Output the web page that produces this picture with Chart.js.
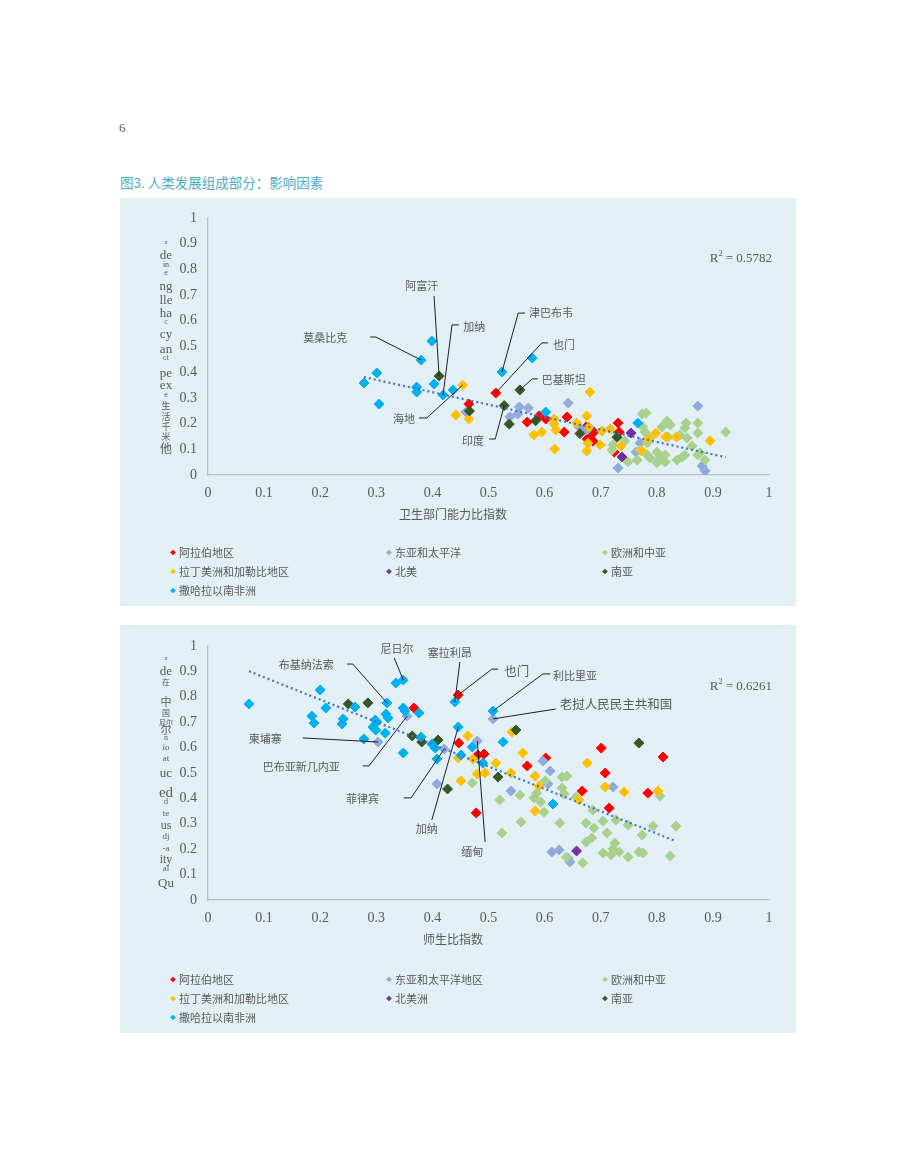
<!DOCTYPE html>
<html>
<head>
<meta charset="utf-8">
<script src="https://cdn.jsdelivr.net/npm/chart.js@4.4.1/dist/chart.umd.min.js"></script>
<style>
  body { margin: 0; background: #fff; width: 920px; height: 1173px; position: relative; font-family: "Noto Sans CJK SC", sans-serif; }
  .pageno { position: absolute; left: 119px; top: 120px; font: 13px "Liberation Serif", serif; color: #595959; }
  .figtitle { position: absolute; left: 120px; top: 172px; font-size: 13.5px; color: #4bacc6; }
  .panel { position: absolute; left: 120px; width: 676px; height: 408px; background: #e2eff5; }
  .panel canvas { position: absolute; left: 0; top: 0; }
  .ypiece { position: absolute; transform: translate(-50%, -50%); color: #595959; white-space: nowrap; line-height: 1; }
  .leg { position: absolute; font-size: 11px; color: #595959; line-height: 1; transform: translateY(-50%); white-space: nowrap; }
  .leg i { display: inline-block; width: 4px; height: 4px; transform: rotate(45deg); margin: 0 4px 2px 0; vertical-align: middle; }
</style>
</head>
<body>
<div class="pageno">6</div>
<div class="figtitle">图3. 人类发展组成部分：影响因素</div>
<div class="panel" id="panel1" style="top:198px"><canvas id="chart1" width="676" height="408"></canvas></div>
<div class="panel" id="panel2" style="top:625px"><canvas id="chart2" width="676" height="408"></canvas></div>

<script>
// ---- 数据----
const tickLabels = ['0', '0.1', '0.2', '0.3', '0.4', '0.5', '0.6', '0.7', '0.8', '0.9', '1'];
const seriesColors = ['#ff0000', '#8faadc', '#a9d18e', '#ffc000', '#7030a0', '#375623', '#00b0f0'];

// 图1：卫生部门能力比指数
const arab1 = [[0.465,0.276],[0.513,0.319],[0.569,0.206],[0.590,0.230],[0.602,0.218],[0.640,0.226],[0.635,0.167],[0.674,0.187],[0.681,0.152],[0.688,0.167],[0.686,0.132],[0.676,0.140],[0.731,0.202],[0.733,0.167],[0.724,0.089]];
const eap1 = [[0.460,0.245],[0.538,0.226],[0.552,0.237],[0.555,0.265],[0.571,0.261],[0.642,0.280],[0.661,0.187],[0.676,0.175],[0.731,0.027],[0.763,0.089],[0.770,0.125],[0.873,0.268],[0.881,0.035],[0.886,0.016]];
const eca1 = [[0.774,0.237],[0.781,0.241],[0.775,0.187],[0.779,0.167],[0.818,0.210],[0.824,0.195],[0.852,0.202],[0.850,0.183],[0.873,0.202],[0.873,0.163],[0.923,0.167],[0.809,0.187],[0.788,0.144],[0.820,0.148],[0.841,0.156],[0.854,0.144],[0.863,0.113],[0.877,0.086],[0.886,0.058],[0.722,0.117],[0.720,0.097],[0.749,0.051],[0.765,0.058],[0.788,0.066],[0.800,0.089],[0.806,0.066],[0.815,0.078],[0.815,0.051],[0.836,0.058],[0.845,0.070],[0.850,0.078],[0.800,0.047],[0.783,0.078],[0.873,0.078],[0.783,0.125],[0.770,0.097],[0.743,0.132]];
const lac1 = [[0.454,0.350],[0.442,0.233],[0.465,0.218],[0.581,0.156],[0.595,0.167],[0.617,0.218],[0.617,0.198],[0.620,0.175],[0.618,0.101],[0.657,0.202],[0.675,0.230],[0.681,0.323],[0.679,0.187],[0.677,0.124],[0.675,0.093],[0.699,0.117],[0.702,0.171],[0.717,0.179],[0.736,0.113],[0.773,0.094],[0.798,0.163],[0.785,0.140],[0.816,0.148],[0.835,0.148],[0.895,0.133]];
const na1 = [[0.754,0.163],[0.738,0.070]];
const sa1 = [[0.412,0.385],[0.466,0.249],[0.556,0.331],[0.528,0.270],[0.537,0.198],[0.584,0.211],[0.663,0.161],[0.729,0.147]];
const ssa1 = [[0.278,0.358],[0.301,0.397],[0.305,0.276],[0.372,0.342],[0.372,0.323],[0.380,0.447],[0.399,0.521],[0.403,0.354],[0.419,0.311],[0.437,0.331],[0.524,0.401],[0.578,0.455],[0.602,0.245],[0.766,0.202]];

// 图2：师生比指数
const arab2 = [[0.367,0.756],[0.446,0.807],[0.447,0.618],[0.481,0.571],[0.492,0.575],[0.478,0.343],[0.569,0.528],[0.602,0.559],[0.667,0.429],[0.701,0.598],[0.708,0.500],[0.715,0.362],[0.784,0.421],[0.811,0.563]];
const eap2 = [[0.303,0.622],[0.355,0.724],[0.408,0.457],[0.421,0.594],[0.480,0.626],[0.508,0.713],[0.540,0.429],[0.597,0.547],[0.606,0.457],[0.610,0.508],[0.722,0.445],[0.613,0.189],[0.626,0.197],[0.642,0.165],[0.645,0.150]];
const eca2 = [[0.471,0.461],[0.520,0.394],[0.524,0.264],[0.556,0.413],[0.558,0.307],[0.581,0.402],[0.586,0.421],[0.593,0.386],[0.599,0.346],[0.601,0.469],[0.627,0.303],[0.631,0.484],[0.640,0.488],[0.631,0.441],[0.635,0.417],[0.656,0.406],[0.674,0.303],[0.688,0.283],[0.704,0.311],[0.727,0.315],[0.686,0.354],[0.684,0.244],[0.674,0.228],[0.711,0.264],[0.725,0.224],[0.749,0.295],[0.774,0.256],[0.793,0.291],[0.834,0.291],[0.806,0.409],[0.639,0.169],[0.668,0.146],[0.704,0.185],[0.718,0.177],[0.733,0.189],[0.749,0.169],[0.768,0.189],[0.775,0.185],[0.824,0.173],[0.722,0.201]];
const lac2 = [[0.446,0.559],[0.451,0.469],[0.463,0.646],[0.472,0.555],[0.480,0.496],[0.494,0.500],[0.513,0.539],[0.540,0.500],[0.542,0.661],[0.561,0.579],[0.583,0.488],[0.590,0.449],[0.583,0.350],[0.661,0.394],[0.676,0.539],[0.708,0.445],[0.742,0.425],[0.802,0.429]];
const na2 = [[0.657,0.193]];
const sa2 = [[0.250,0.772],[0.285,0.776],[0.364,0.646],[0.381,0.622],[0.410,0.630],[0.427,0.437],[0.517,0.484],[0.549,0.669],[0.768,0.618]];
const ssa2 = [[0.073,0.772],[0.200,0.827],[0.210,0.756],[0.185,0.724],[0.189,0.697],[0.241,0.713],[0.239,0.693],[0.262,0.760],[0.298,0.709],[0.301,0.701],[0.294,0.681],[0.299,0.669],[0.316,0.657],[0.319,0.776],[0.317,0.732],[0.321,0.717],[0.335,0.854],[0.348,0.866],[0.348,0.756],[0.351,0.744],[0.376,0.736],[0.278,0.634],[0.348,0.579],[0.380,0.642],[0.399,0.614],[0.405,0.598],[0.408,0.555],[0.440,0.780],[0.446,0.681],[0.451,0.571],[0.471,0.602],[0.490,0.539],[0.508,0.744],[0.526,0.622],[0.615,0.378]];

const legend1 = ['阿拉伯地区', '东亚和太平洋', '欧洲和中亚', '拉丁美洲和加勒比地区', '北美', '南亚', '撒哈拉以南非洲'];
const legend2 = ['阿拉伯地区', '东亚和太平洋地区', '欧洲和中亚', '拉丁美洲和加勒比地区', '北美洲', '南亚', '撒哈拉以南非洲'];

// 标注：文字位置、折线拐点（数据坐标），指向的系列及近似点
const notes1 = [
  { text: '阿富汗', pos: [0.381, 0.735], align: 'center', path: [[0.403, 0.696]], series: 5, at: [0.412, 0.385] },
  { text: '加纳', pos: [0.455, 0.576], align: 'left', path: [[0.447, 0.584], [0.435, 0.584]], series: 6, at: [0.419, 0.311] },
  { text: '莫桑比克', pos: [0.248, 0.533], align: 'right', path: [[0.289, 0.537], [0.299, 0.537]], series: 6, at: [0.380, 0.447] },
  { text: '津巴布韦', pos: [0.572, 0.630], align: 'left', path: [[0.565, 0.630], [0.553, 0.630]], series: 6, at: [0.524, 0.401] },
  { text: '也门', pos: [0.615, 0.506], align: 'left', path: [[0.606, 0.514], [0.595, 0.514]], series: 0, at: [0.513, 0.319] },
  { text: '巴基斯坦', pos: [0.595, 0.370], align: 'left', path: [[0.588, 0.374], [0.578, 0.374]], series: 5, at: [0.556, 0.331] },
  { text: '海地', pos: [0.369, 0.218], align: 'right', path: [[0.376, 0.222], [0.390, 0.222]], series: 3, at: [0.454, 0.350] },
  { text: '印度', pos: [0.492, 0.132], align: 'right', path: [[0.501, 0.140], [0.512, 0.140]], series: 5, at: [0.528, 0.270] }
];
const notes2 = [
  { text: '尼日尔', pos: [0.337, 0.988], align: 'center', path: [[0.332, 0.953]], series: 6, at: [0.348, 0.866] },
  { text: '塞拉利昂', pos: [0.431, 0.972], align: 'center', path: [[0.449, 0.937]], series: 6, at: [0.440, 0.780] },
  { text: '布基纳法索', pos: [0.175, 0.925], align: 'center', path: [[0.248, 0.929], [0.258, 0.929]], series: 6, at: [0.319, 0.776] },
  { text: '也门', pos: [0.528, 0.902], align: 'left', path: [[0.517, 0.909], [0.506, 0.909]], series: 0, at: [0.446, 0.807], size: 12.5 },
  { text: '利比里亚', pos: [0.615, 0.882], align: 'left', path: [[0.610, 0.890], [0.597, 0.890]], series: 6, at: [0.508, 0.744] },
  { text: '老挝人民民主共和国', pos: [0.627, 0.772], align: 'left', path: [[0.620, 0.752]], series: 1, at: [0.508, 0.713], size: 12.5 },
  { text: '柬埔寨', pos: [0.102, 0.634], align: 'center', path: [[0.169, 0.638]], series: 1, at: [0.303, 0.622] },
  { text: '巴布亚新几内亚', pos: [0.235, 0.524], align: 'right', path: [[0.276, 0.528], [0.287, 0.528]], series: 1, at: [0.355, 0.724] },
  { text: '菲律宾', pos: [0.305, 0.398], align: 'right', path: [[0.349, 0.402], [0.362, 0.402]], series: 1, at: [0.421, 0.594] },
  { text: '加纳', pos: [0.390, 0.280], align: 'center', path: [[0.399, 0.315]], series: 6, at: [0.446, 0.681] },
  { text: '缅甸', pos: [0.471, 0.189], align: 'center', path: [[0.494, 0.228]], series: 1, at: [0.480, 0.626] }
];

// 竖排的 y 轴标题碎片：[文字, 相对面板的 y, 字号, 是否衬线]
const yTitle1 = [['x',44,6,1],['de',56,13,1],['in',67,8,1],['e',75,8,1],['ng',87,13,1],['lle',101,13,1],['ha',114,13,1],['c',124,8,1],['cy',135,13,1],['an',150,13,1],['ct',160,8,1],['pe',174,13,1],['ex',186,13,1],['e',197,8,1],['生',207,9,0],['活',218,9,0],['千',228,9,0],['米',238,9,0],['他',250,12,0]];
const yTitle2 = [['x',33,6,1],['de',45,13,1],['在',57,8,0],['中',76,11,0],['国',88,8,0],['尼尔',97,7,0],['尔',104,11,0],['n',113,8,1],['io',122,9,1],['at',133,9,1],['uc',147,13,1],['ed',167,15,1],['d',177,8,1],['te',188,9,1],['us',200,12,1],['dj',211,9,1],['-a',223,9,1],['ity',234,12,1],['al',243,9,1],['Qu',257,13,1]];

function fitLine(points) {
  const n = points.length;
  let sx = 0, sy = 0, sxx = 0, sxy = 0;
  points.forEach(p => { sx += p[0]; sy += p[1]; sxx += p[0] * p[0]; sxy += p[0] * p[1]; });
  const slope = (n * sxy - sx * sy) / (n * sxx - sx * sx);
  const icpt = (sy - slope * sx) / n;
  const xs = points.map(p => p[0]);
  const x0 = Math.min(...xs), x1 = Math.max(...xs);
  return [{ x: x0, y: icpt + slope * x0 }, { x: x1, y: icpt + slope * x1 }];
}

function addYTitle(panel, pieces) {
  pieces.forEach(p => {
    const el = document.createElement('div');
    el.className = 'ypiece';
    el.textContent = p[0];
    el.style.left = '46px';
    el.style.top = p[1] + 'px';
    el.style.fontSize = p[2] + 'px';
    el.style.fontFamily = p[3] ? '"Liberation Serif", serif' : '"Noto Sans CJK SC", sans-serif';
    panel.appendChild(el);
  });
}

function addLegend(panel, labels) {
  const cols = [51, 267, 483];
  const rows = [354, 373, 392];
  labels.forEach((lab, i) => {
    const el = document.createElement('div');
    el.className = 'leg';
    el.style.left = cols[i % 3] + 'px';
    el.style.top = rows[Math.floor(i / 3)] + 'px';
    el.innerHTML = '<i style="background:' + seriesColors[i] + '"></i>' + lab;
    panel.appendChild(el);
  });
}

function makeChart(canvasId, series, notes, xTitle, r2, padTop, padBottom) {
  const all = [].concat(...series);
  const datasets = [{
    type: 'line',
    data: fitLine(all),
    borderColor: '#4472c4',
    borderWidth: 2.2,
    borderDash: [2, 3],
    pointRadius: 0,
    fill: false,
    order: 0
  }];
  series.forEach((pts, i) => {
    datasets.push({
      type: 'scatter',
      data: pts.map(p => ({ x: p[0], y: p[1] })),
      backgroundColor: seriesColors[i],
      borderColor: seriesColors[i],
      pointStyle: 'rectRot',
      pointRadius: 5,
      pointHoverRadius: 5,
      order: 10 - i
    });
  });

  const callouts = {
    id: 'callouts',
    afterDatasetsDraw(chart) {
      const { ctx, chartArea } = chart;
      const xs = chart.scales.x, ys = chart.scales.y;
      ctx.save();
      notes.forEach(n => {
        const dsIndex = n.series + 1;
        const pts = chart.data.datasets[dsIndex].data;
        let best = 0, bd = Infinity;
        pts.forEach((p, i) => {
          const d = (p.x - n.at[0]) ** 2 + (p.y - n.at[1]) ** 2;
          if (d < bd) { bd = d; best = i; }
        });
        const el = chart.getDatasetMeta(dsIndex).data[best];
        ctx.beginPath();
        ctx.strokeStyle = '#1f1f1f';
        ctx.lineWidth = 1;
        n.path.forEach((p, i) => {
          const px = xs.getPixelForValue(p[0]), py = ys.getPixelForValue(p[1]);
          if (i === 0) ctx.moveTo(px, py); else ctx.lineTo(px, py);
        });
        ctx.lineTo(el.x, el.y);
        ctx.stroke();
        ctx.font = (n.size || 11) + 'px "Noto Sans CJK SC"';
        ctx.fillStyle = '#595959';
        ctx.textAlign = n.align;
        ctx.textBaseline = 'middle';
        ctx.fillText(n.text, xs.getPixelForValue(n.pos[0]), ys.getPixelForValue(n.pos[1]));
      });

      // R² 文字
      const rx = chartArea.right + 3, ry = chartArea.top + 40;
      ctx.textBaseline = 'alphabetic';
      ctx.textAlign = 'left';
      ctx.font = '13px "Liberation Serif"';
      const tail = ' = ' + r2;
      const wR = ctx.measureText('R').width;
      const wTail = ctx.measureText(tail).width;
      ctx.font = '8px "Liberation Serif"';
      const w2 = ctx.measureText('2').width;
      const start = rx - wR - w2 - wTail;
      ctx.font = '13px "Liberation Serif"';
      ctx.fillText('R', start, ry + 4);
      ctx.fillText(tail, start + wR + w2, ry + 4);
      ctx.font = '8px "Liberation Serif"';
      ctx.fillText('2', start + wR, ry - 2);

      // x 轴标题
      ctx.font = '12px "Noto Sans CJK SC"';
      ctx.textAlign = 'center';
      ctx.textBaseline = 'middle';
      ctx.fillText(xTitle, chart.width / 2 - 5, chartArea.bottom + 39);
      ctx.restore();
    }
  };

  const tickFont = { family: '"Liberation Serif", serif', size: 14 };
  return new Chart(document.getElementById(canvasId), {
    data: { datasets },
    options: {
      responsive: false,
      animation: false,
      layout: { padding: { top: padTop, right: 27, bottom: padBottom, left: 0 } },
      plugins: { legend: { display: false }, tooltip: { enabled: false } },
      scales: {
        x: {
          type: 'linear', min: 0, max: 1,
          grid: { display: false, drawTicks: false },
          border: { display: true, color: '#bfbfbf', width: 1.3 },
          ticks: { stepSize: 0.1, color: '#595959', font: tickFont, padding: 10, maxRotation: 0,
                   callback: (v, i) => tickLabels[i] },
          afterFit: s => { s.height = 30; }
        },
        y: {
          type: 'linear', min: 0, max: 1,
          grid: { display: false, drawTicks: false },
          border: { display: true, color: '#bfbfbf', width: 1.3 },
          ticks: { stepSize: 0.1, color: '#595959', font: tickFont, padding: 11,
                   callback: (v, i) => tickLabels[i] },
          afterFit: s => { s.width = 88; }
        }
      }
    },
    plugins: [callouts]
  });
}

const panel1 = document.getElementById('panel1');
const panel2 = document.getElementById('panel2');
addYTitle(panel1, yTitle1);
addYTitle(panel2, yTitle2);
addLegend(panel1, legend1);
addLegend(panel2, legend2);

makeChart('chart1', [arab1, eap1, eca1, lac1, na1, sa1, ssa1], notes1, '卫生部门能力比指数', '0.5782', 20, 101);
makeChart('chart2', [arab2, eap2, eca2, lac2, na2, sa2, ssa2], notes2, '师生比指数', '0.6261', 21, 103);
</script>
</body>
</html>
